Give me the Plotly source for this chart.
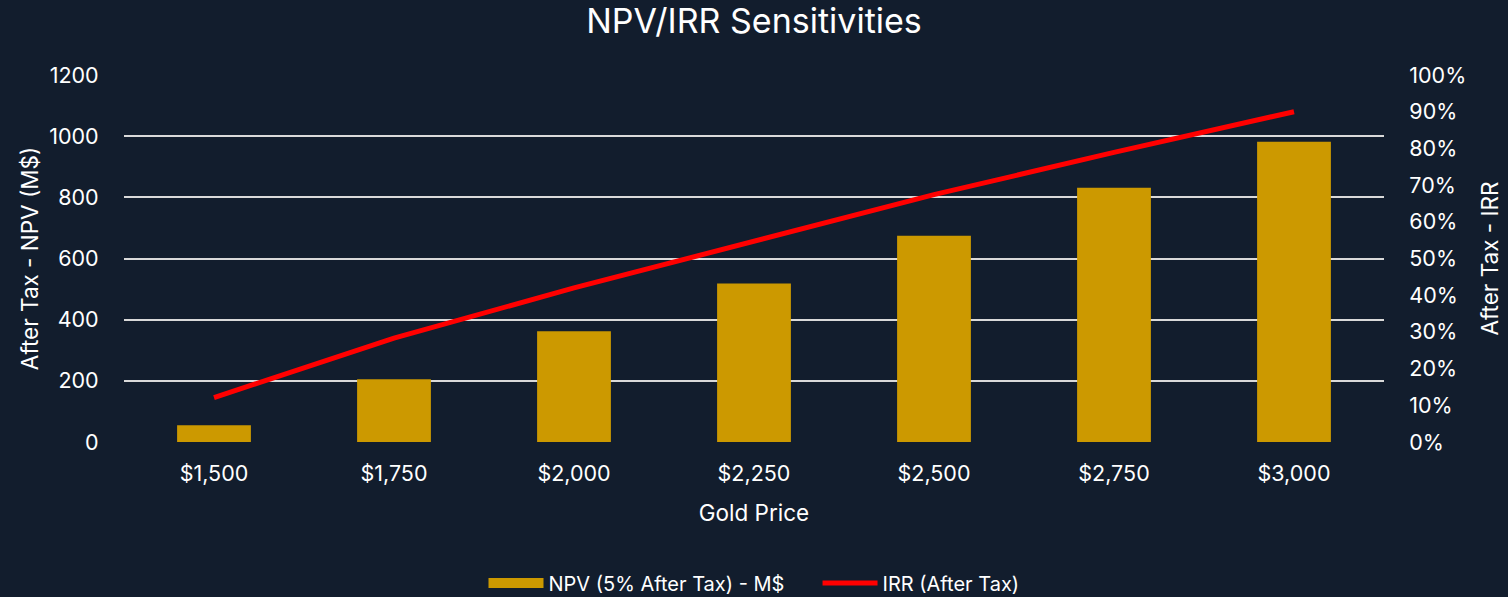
import plotly.graph_objects as go

categories = ["$1,500", "$1,750", "$2,000", "$2,250", "$2,500", "$2,750", "$3,000"]
npv_values = [55, 205, 362, 518, 674, 831, 982]
irr_values = [0.121, 0.283, 0.420, 0.546, 0.674, 0.789, 0.900]

left_ticks = [0, 200, 400, 600, 800, 1000, 1200]
right_ticks = [0, 0.1, 0.2, 0.3, 0.4, 0.5, 0.6, 0.7, 0.8, 0.9, 1.0]

BG = "#121D2D"
FONT = "Inter, Liberation Sans, sans-serif"
TXT = "#FFFFFF"
TICK = 21.5
AXT = 22.5

fig = go.Figure()
fig.add_trace(go.Bar(
    x=categories, y=npv_values, name="NPV (5% After Tax) - M$",
    marker=dict(color="#CC9900", line=dict(width=0)), showlegend=False,
))
# legend-only swatch for the bars (wide rectangle like the reference)
fig.add_trace(go.Scatter(
    x=[None], y=[None], name="NPV (5% After Tax) - M$" + "\u00a0" * 5, mode="lines",
    line=dict(color="#CC9900", width=14),
))
fig.add_trace(go.Scatter(
    x=categories, y=irr_values, name="IRR (After Tax)", yaxis="y2",
    mode="lines", line=dict(color="#FF0000", width=5),
))

fig.update_layout(
    width=1508, height=597,
    paper_bgcolor=BG, plot_bgcolor=BG,
    font=dict(family=FONT, color=TXT, size=TICK),
    margin=dict(l=124, r=124, t=75, b=155, autoexpand=False),
    title=dict(text="NPV/IRR Sensitivities", x=0.5, xanchor="center",
               y=0.965, yanchor="middle",
               font=dict(size=34, family=FONT, color=TXT)),
    bargap=0.59,
    showlegend=True,
    legend=dict(orientation="h", x=0.5, xanchor="center",
                yref="container", y=1 - 583 / 597, yanchor="middle",
                font=dict(size=20, family=FONT, color=TXT), bgcolor="rgba(0,0,0,0)",
                traceorder="normal", itemwidth=55),
    xaxis=dict(
        type="category", showgrid=False, zeroline=False, showline=False, automargin=False,
        ticks="outside", ticklen=12, tickcolor="rgba(0,0,0,0)",
        tickfont=dict(size=TICK, family=FONT, color=TXT),
        title=dict(text="Gold Price", font=dict(size=AXT, family=FONT, color=TXT), standoff=20),
    ),
    yaxis=dict(
        range=[0, 1200], tickvals=left_ticks, showgrid=True, gridcolor="#D9D9D9", gridwidth=1.5,
        zeroline=False, showline=False, automargin=False,
        ticks="outside", ticklen=20, tickcolor="rgba(0,0,0,0)",
        tickfont=dict(size=TICK, family=FONT, color=TXT),
        title=dict(text="After Tax - NPV (M$)", font=dict(size=AXT, family=FONT, color=TXT), standoff=4),
    ),
    yaxis2=dict(
        range=[0, 1.0], tickvals=right_ticks, tickformat=".0%", overlaying="y", side="right",
        showgrid=False, zeroline=False, showline=False, automargin=False,
        ticks="outside", ticklen=20, tickcolor="rgba(0,0,0,0)",
        tickfont=dict(size=TICK, family=FONT, color=TXT),
        title=dict(text="After Tax - IRR", font=dict(size=AXT, family=FONT, color=TXT), standoff=16),
    ),
)

fig.write_html(
    "out.html",
    config={"displayModeBar": False},
    post_script="document.body.style.margin='0';document.body.style.overflow='hidden';document.body.style.background='" + BG + "';",
)
